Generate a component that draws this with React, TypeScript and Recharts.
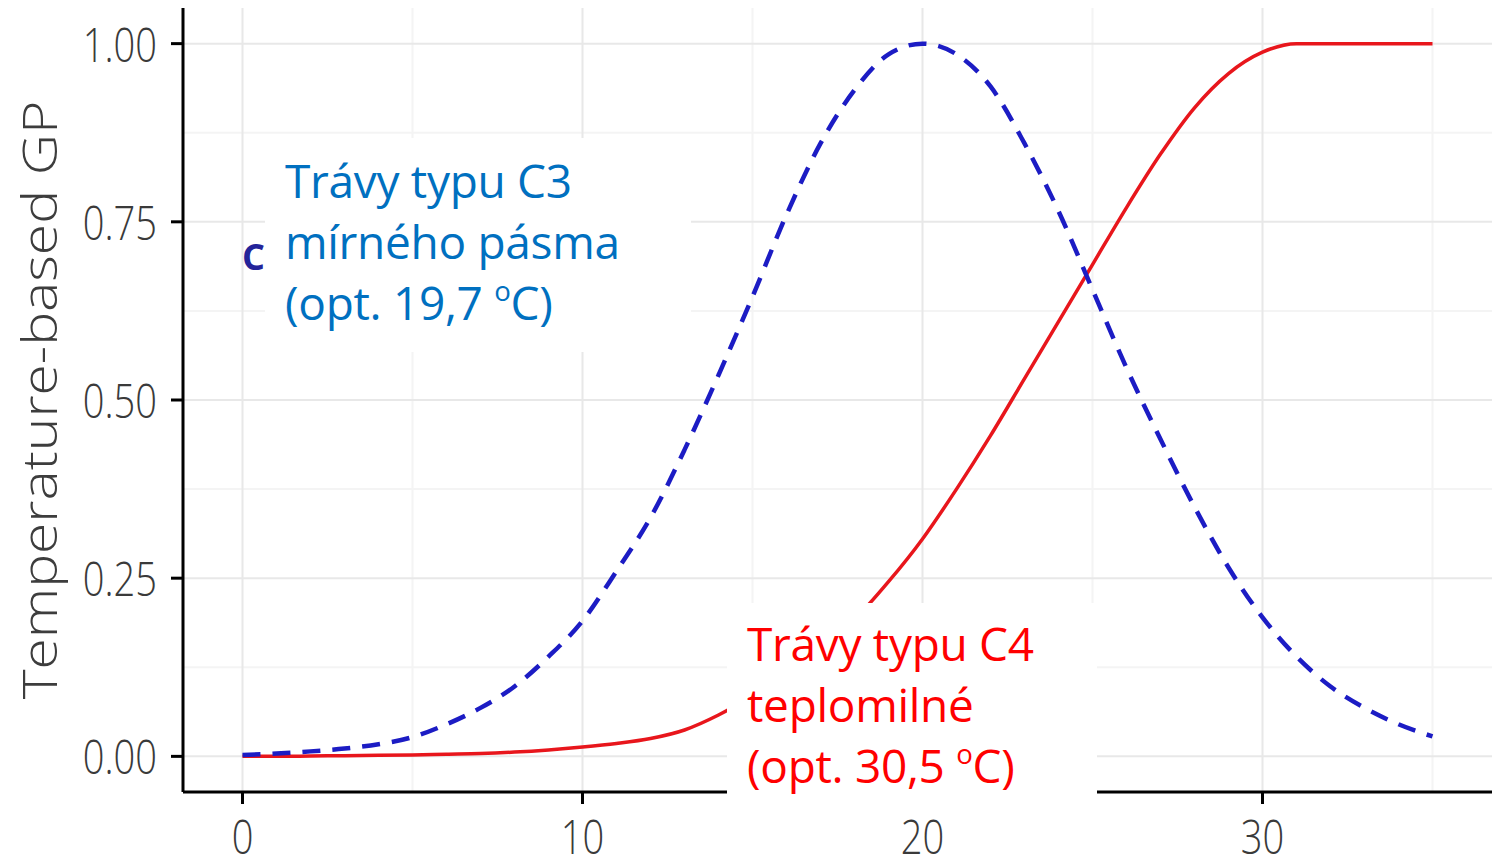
import { LineChart, Line, XAxis, YAxis, CartesianGrid } from 'recharts'

// temperature (°C) and relative gross productivity
const temps = [
  0, 1, 2, 3, 4, 5, 6, 7, 8, 9, 10, 11, 12, 13, 14, 15, 16, 17,
  18, 19, 20, 21, 22, 23, 24, 25, 26, 27, 28, 29, 30, 31, 32, 33, 34, 35,
]
const c3Values = [
  0.002, 0.004, 0.007, 0.011, 0.017, 0.027, 0.045, 0.068, 0.098, 0.14,
  0.19, 0.26, 0.335, 0.43, 0.535, 0.645, 0.76, 0.86, 0.935, 0.985,
  1.0, 0.985, 0.94, 0.86, 0.765, 0.655, 0.545, 0.445, 0.35, 0.265,
  0.195, 0.14, 0.098, 0.068, 0.045, 0.028,
]
const c4Values = [
  0.0, 0.0, 0.0005, 0.001, 0.0015, 0.002, 0.003, 0.004, 0.006, 0.009,
  0.013, 0.018, 0.025, 0.037, 0.058, 0.085, 0.115, 0.152, 0.192, 0.245,
  0.305, 0.375, 0.45, 0.53, 0.61, 0.69, 0.77, 0.845, 0.91, 0.958,
  0.988, 1.0, 1.0, 1.0, 1.0, 1.0,
]

const xTicks = [0, 10, 20, 30]
const xMinor = [5, 15, 25, 35]
const yTicks = [0, 0.25, 0.5, 0.75, 1]
const yMinor = [0.125, 0.375, 0.625, 0.875]

const data = temps.map((t, i) => ({ t, c3: c3Values[i], c4: c4Values[i] }))

const tickFont = "'Open Sans', sans-serif"
const noteFont = "'Open Sans', sans-serif"

function YTick(props: any) {
  const { x, y, payload } = props
  return (
    <text
      transform={`translate(${x},${y}) scale(0.81,1)`}
      textAnchor="end"
      dominantBaseline="central"
      fontFamily={tickFont}
      fontWeight={300}
      fontSize={47}
      fill="#3a3a3a"
    >
      {Number(payload.value).toFixed(2)}
    </text>
  )
}

function XTick(props: any) {
  const { x, y, payload } = props
  return (
    <text
      transform={`translate(${x},${y + 46}) scale(0.81,1)`}
      textAnchor="middle"
      fontFamily={tickFont}
      fontWeight={300}
      fontSize={47}
      fill="#3a3a3a"
    >
      {payload.value}
    </text>
  )
}

function YTitle(props: any) {
  const { viewBox } = props
  const cy = viewBox.y + viewBox.height / 2
  return (
    <text
      transform={`translate(38,${cy}) rotate(-90) scale(1,0.85)`}
      textAnchor="middle"
      dominantBaseline="central"
      fontFamily={tickFont}
      fontWeight={300}
      fontSize={57}
      fill="#3d3d3d"
    >
      Temperature-based GP
    </text>
  )
}

const box: React.CSSProperties = {
  position: 'absolute',
  background: '#fff',
  fontFamily: noteFont,
  fontSize: 46,
  letterSpacing: -0.3,
  lineHeight: '61px',
  whiteSpace: 'nowrap',
}

const supStyle: React.CSSProperties = { fontSize: '0.6em', verticalAlign: '0.7em', lineHeight: 0 }

export default function App() {
  return (
    <div
      style={{
        position: 'absolute',
        left: 0,
        top: 0,
        width: 1499,
        height: 865,
        background: '#fff',
        overflow: 'hidden',
      }}
    >
      <LineChart
        width={1499}
        height={865}
        data={data}
        margin={{ top: 8, right: 7, bottom: 0, left: 0 }}
      >
        <CartesianGrid
          stroke="#f4f4f4"
          strokeWidth={2}
          horizontalValues={yMinor}
          verticalValues={xMinor}
        />
        <CartesianGrid
          stroke="#e8e8e8"
          strokeWidth={2}
          horizontalValues={yTicks}
          verticalValues={xTicks}
        />
        <XAxis
          dataKey="t"
          type="number"
          domain={[-1.75, 36.75]}
          ticks={xTicks}
          allowDataOverflow
          height={73}
          tickSize={12}
          tickMargin={4}
          axisLine={{ stroke: '#000', strokeWidth: 3 }}
          tickLine={{ stroke: '#000', strokeWidth: 3 }}
          tick={<XTick />}
        />
        <YAxis
          type="number"
          domain={[-0.05, 1.05]}
          ticks={yTicks}
          allowDataOverflow
          width={183}
          tickSize={12}
          tickMargin={14}
          axisLine={{ stroke: '#000', strokeWidth: 3 }}
          tickLine={{ stroke: '#000', strokeWidth: 3 }}
          tick={<YTick />}
          label={<YTitle />}
        />
        <Line
          type="monotone"
          dataKey="c4"
          stroke="#e8161c"
          strokeWidth={3.5}
          dot={false}
          isAnimationActive={false}
        />
        <Line
          type="monotone"
          dataKey="c3"
          stroke="#1c1cc4"
          strokeWidth={4.5}
          strokeDasharray="18 12"
          dot={false}
          isAnimationActive={false}
        />
      </LineChart>

      {/* leftover label peeking out from under the C3 note */}
      <div
        style={{
          position: 'absolute',
          left: 242,
          top: 232,
          fontFamily: noteFont,
          fontSize: 36,
          fontWeight: 700,
          color: '#24249a',
        }}
      >
        C3
      </div>

      <div style={{ ...box, left: 265, top: 138, width: 426, height: 214, color: '#0070c0' }}>
        <div style={{ paddingLeft: 20, paddingTop: 12 }}>
          Trávy typu C3
          <br />
          mírného pásma
          <br />
          (opt. 19,7 <sup style={supStyle}>o</sup>C)
        </div>
      </div>

      <div style={{ ...box, left: 727, top: 603, width: 370, height: 204, color: '#ff0000' }}>
        <div style={{ paddingLeft: 20, paddingTop: 10 }}>
          Trávy typu C4
          <br />
          teplomilné
          <br />
          (opt. 30,5 <sup style={supStyle}>o</sup>C)
        </div>
      </div>
    </div>
  )
}
